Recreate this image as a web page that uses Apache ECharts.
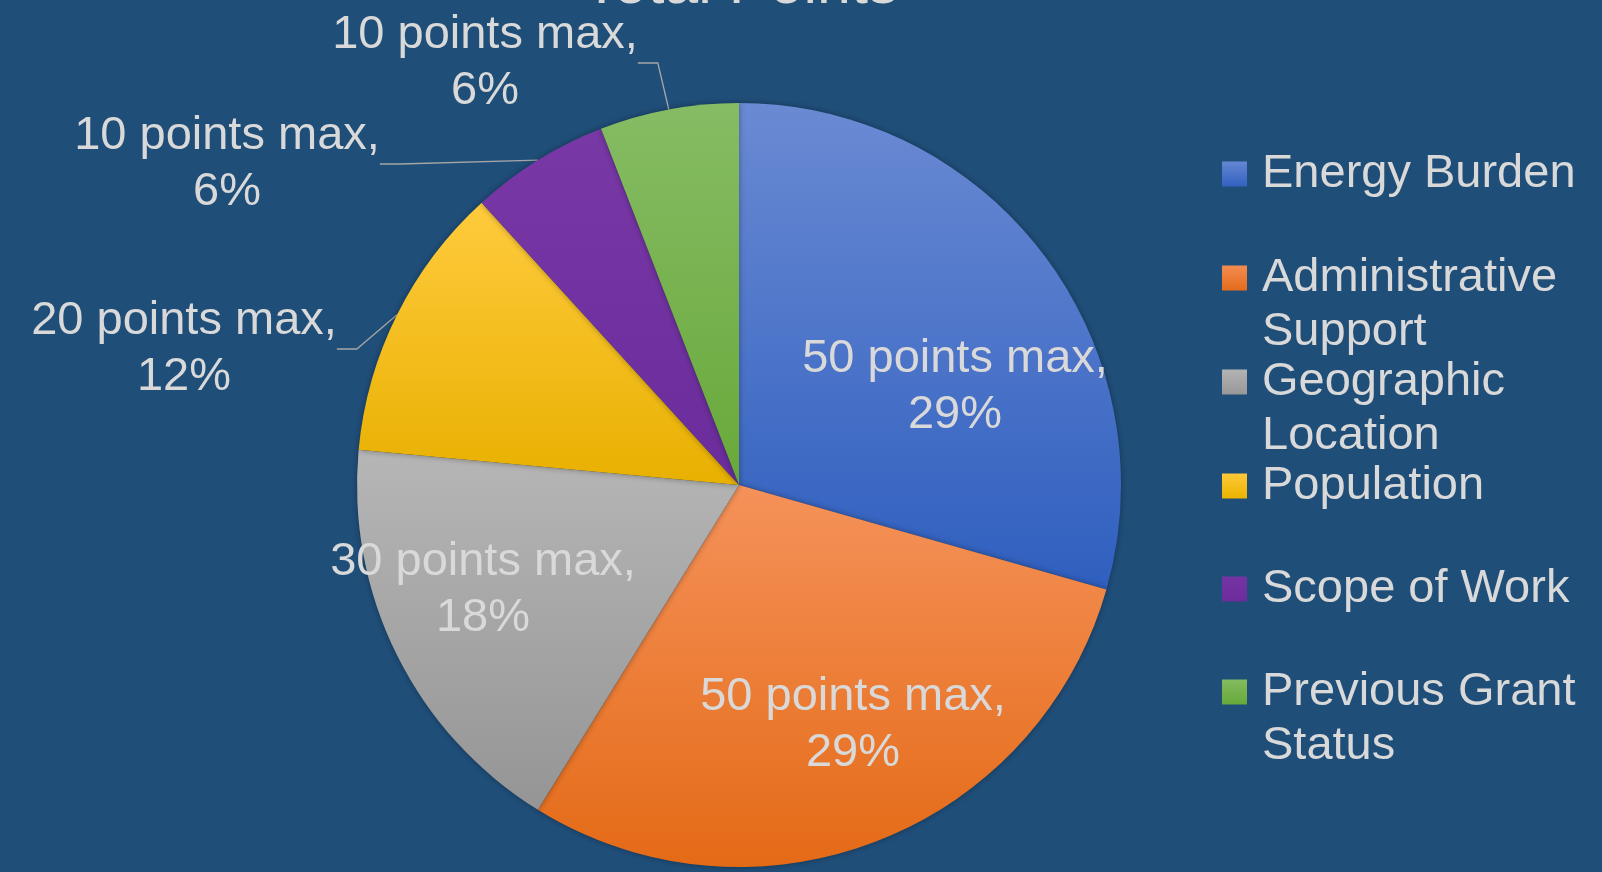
<!DOCTYPE html>
<html>
<head>
<meta charset="utf-8">
<script src="https://cdn.jsdelivr.net/npm/echarts@6/dist/echarts.min.js"></script>
<style>
html,body{margin:0;padding:0;background:#1f4e79;}
#c{width:1602px;height:872px;}
</style>
</head>
<body>
<div id="c"></div>
<script>
// ---- data ----
var categories = ['Energy Burden', 'Administrative Support', 'Geographic Location', 'Population', 'Scope of Work', 'Previous Grant Status'];
var maxPoints = [50, 50, 30, 20, 10, 10];
var legendLabels = ['Energy Burden', 'Administrative\nSupport', 'Geographic\nLocation', 'Population', 'Scope of Work', 'Previous Grant\nStatus'];
var titleText = 'Total Points';

// ---- styles ----
var gradients = [
  ['#6a8ad3', '#2f5fbf'],
  ['#f5925a', '#e46a16'],
  ['#b6b6b6', '#959595'],
  ['#ffcb3d', '#e8b000'],
  ['#7838a6', '#6b2c9c'],
  ['#86bc64', '#68a93a']
];
var legendSwatch = [
  ['#6586d2', '#3262c0'],
  ['#f38c50', '#e46c1c'],
  ['#b3b3b3', '#989898'],
  ['#ffc93a', '#eab400'],
  ['#7434a3', '#6c2c9c'],
  ['#84bb60', '#66a93a']
];
// label block centres (px) within the 1602x872 canvas
var labelPos = [[955, 387], [853, 725], [483, 590], [184, 349], [227, 164], [485, 63]];
var labelInside = [true, true, true, false, false, false];
var legendFirstLineY = [174, 278, 382, 486, 589, 692];
var LH = 54;

var total = maxPoints.reduce(function (a, b) { return a + b; }, 0);
var textColor = '#d9d9d9';

function vgrad(c) {
  return { type: 'linear', x: 0, y: 0, x2: 0, y2: 1,
    colorStops: [{ offset: 0, color: c[0] }, { offset: 1, color: c[1] }] };
}

var data = categories.map(function (name, i) {
  return {
    name: name,
    value: maxPoints[i],
    itemStyle: { color: vgrad(gradients[i]) },
    label: { position: labelInside[i] ? 'inside' : 'outside' },
    labelLine: { show: !labelInside[i] }
  };
});

var legends = categories.map(function (name, i) {
  var twoLine = legendLabels[i].indexOf('\n') >= 0;
  return {
    left: 1222,
    top: legendFirstLineY[i] - (twoLine ? 1.5 * LH : 0.5 * LH),
    padding: 0,
    orient: 'vertical',
    data: [{ name: name, itemStyle: { color: vgrad(legendSwatch[i]) } }],
    icon: 'rect',
    itemWidth: 25,
    itemHeight: 25,
    selectedMode: false,
    // an empty leading line keeps the swatch level with the first text line
    formatter: function () { return (twoLine ? '\n' : '') + legendLabels[i]; },
    textStyle: {
      color: textColor,
      fontFamily: 'Liberation Sans, Arial, sans-serif',
      fontSize: 47,
      lineHeight: LH,
      padding: [0, 0, 0, 10]
    }
  };
});

var chart = echarts.init(document.getElementById('c'), null, { renderer: 'canvas' });
chart.setOption({
  backgroundColor: '#1f4e79',
  animation: false,
  title: {
    text: titleText,
    left: 578,
    top: -49,
    textStyle: { color: textColor, fontFamily: 'Liberation Sans, Arial, sans-serif', fontSize: 61, fontWeight: 'normal' }
  },
  legend: legends,
  series: [{
    type: 'pie',
    center: [739, 485],
    radius: 382,
    startAngle: 90,
    clockwise: true,
    avoidLabelOverlap: false,
    itemStyle: { shadowBlur: 6, shadowColor: 'rgba(0,0,0,0.35)' },
    label: {
      show: true,
      color: textColor,
      fontFamily: 'Liberation Sans Narrow, Arial Narrow, Liberation Sans, sans-serif',
      fontSize: 47,
      lineHeight: 56,
      align: 'center',
      formatter: function (p) {
        return p.value + ' points max,\n' + Math.round(p.value / total * 100) + '%';
      }
    },
    labelLine: {
      show: true,
      length: 20,
      length2: 20,
      lineStyle: { color: '#a6a6a6', width: 1.3 }
    },
    labelLayout: function (params) {
      var p = labelPos[params.dataIndex];
      return { x: p[0], y: p[1], align: 'center', verticalAlign: 'middle' };
    },
    data: data
  }]
});
</script>
</body>
</html>
